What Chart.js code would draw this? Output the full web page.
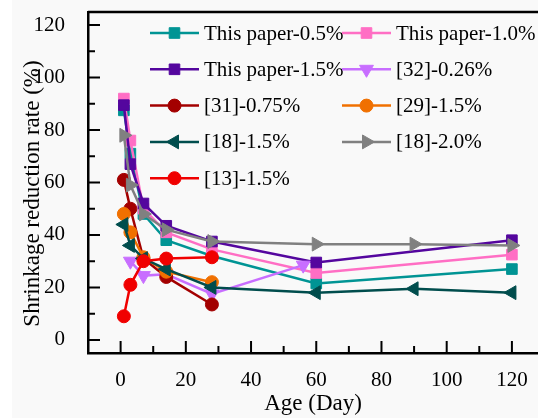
<!DOCTYPE html>
<html>
<head>
<meta charset="utf-8">
<script src="https://cdn.jsdelivr.net/npm/chart.js@4.4.1/dist/chart.umd.min.js"></script>
<style>
  html, body { margin: 0; padding: 0; background: #fff; overflow: hidden; }
  #wrap { position: absolute; left: 12px; top: 0; width: 526px; height: 418px; background: #f9f9f9; }
</style>
</head>
<body>
<div id="wrap"><canvas id="canvas" width="526" height="418"></canvas></div>
<script>
// tick labels
const yTicks = [0, 20, 40, 60, 80, 100, 120];
const xTicks = [0, 20, 40, 60, 80, 100, 120];

// shrinkage reduction rate (%) against age (day)
const daysPaper = [1, 3, 7, 14, 28, 60, 120];
const paper05 = [87.5, 71, 48, 38, 32, 21.5, 27];
const paper10 = [92, 76, 50, 41, 34.5, 25.5, 32.5];
const paper15 = [89.5, 67, 52, 43.5, 37.5, 29.5, 38];
const days32 = [3, 7, 14, 28, 56];
const ref32 = [30, 24.5, 25, 17.5, 28.5];
const days31 = [1, 3, 7, 14, 28];
const ref31 = [61, 50, 31, 24, 13.5];
const days29 = [1, 3, 7, 14, 28];
const ref29 = [48, 41, 31.5, 26, 22];
const days18 = [1, 3, 7, 14, 28, 60, 90, 120];
const ref18a = [44, 36, 31, 27, 20, 18, 19.5, 18];
const ref18b = [78, 59, 48, 42, 37.5, 36.5, 36.5, 36];
const days13 = [1, 3, 7, 14, 28];
const ref13 = [9, 21, 30, 31, 31.5];

const serif = 'Liberation Serif';
Chart.defaults.font.family = serif;
Chart.defaults.color = '#000';

function series(label, days, vals, color, pointStyle, rotation, radius, i) {
  return {
    label: label,
    data: days.map((d, k) => ({ x: d, y: vals[k] })),
    borderColor: color,
    backgroundColor: color,
    borderWidth: 2.5,
    pointStyle: pointStyle,
    rotation: rotation,
    pointRadius: radius,
    pointBorderWidth: 1,
    tension: 0,
    order: -i
  };
}

const datasets = [
  series('This paper-0.5%', daysPaper, paper05, '#009494', 'rect', 0, 7.5, 0),
  series('This paper-1.0%', daysPaper, paper10, '#ff6ec4', 'rect', 0, 7.5, 1),
  series('This paper-1.5%', daysPaper, paper15, '#54069e', 'rect', 0, 7.5, 2),
  series('[32]-0.26%', days32, ref32, '#c86eff', 'triangle', 180, 8, 3),
  series('[31]-0.75%', days31, ref31, '#a30000', 'circle', 0, 6.5, 4),
  series('[29]-1.5%', days29, ref29, '#f07000', 'circle', 0, 6.5, 5),
  series('[18]-1.5%', days18, ref18a, '#004d4d', 'triangle', 270, 8, 6),
  series('[18]-2.0%', days18, ref18b, '#808080', 'triangle', 90, 8, 7),
  series('[13]-1.5%', days13, ref13, '#f00000', 'circle', 0, 6.5, 8)
];

// inward major/minor ticks, top border, y title and the two-column legend
const decor = {
  id: 'decor',
  afterDraw(chart) {
    const ctx = chart.ctx;
    const a = chart.chartArea;
    const xs = chart.scales.x, ys = chart.scales.y;
    ctx.save();
    ctx.strokeStyle = '#000';
    ctx.lineWidth = 2;
    ctx.beginPath();
    for (let v = 0; v <= 120; v += 10) {
      const len = v % 20 === 0 ? 12 : 7;
      const py = ys.getPixelForValue(v);
      ctx.moveTo(a.left, py); ctx.lineTo(a.left + len, py);
      const px = xs.getPixelForValue(v);
      ctx.moveTo(px, a.bottom); ctx.lineTo(px, a.bottom - len);
    }
    ctx.stroke();
    ctx.lineWidth = 2.5;
    ctx.beginPath();
    ctx.moveTo(a.left, a.top); ctx.lineTo(a.right, a.top);
    ctx.stroke();

    ctx.fillStyle = '#000';
    ctx.font = '23px ' + serif;
    ctx.textAlign = 'center';
    ctx.textBaseline = 'middle';
    ctx.translate(21, (a.top + a.bottom) / 2 + 11);
    ctx.rotate(-Math.PI / 2);
    ctx.fillText('Shrinkage reduction rate (%)', 0, 0);
    ctx.restore();

    ctx.save();
    ctx.font = '21px ' + serif;
    ctx.textBaseline = 'middle';
    ctx.textAlign = 'left';
    chart.data.datasets.forEach((ds, i) => {
      const col = i % 2, row = Math.floor(i / 2);
      const x0 = a.left + (col === 0 ? 62 : 254);
      const y = a.top + 21 + row * 36.3;
      ctx.strokeStyle = ds.borderColor;
      ctx.fillStyle = ds.backgroundColor;
      ctx.lineWidth = 2.5;
      ctx.beginPath();
      ctx.moveTo(x0, y); ctx.lineTo(x0 + 49, y);
      ctx.stroke();
      ctx.lineWidth = 1;
      Chart.helpers.drawPoint(ctx, {
        pointStyle: ds.pointStyle, rotation: ds.rotation,
        radius: ds.pointRadius, borderWidth: 1
      }, x0 + 24.5, y);
      ctx.fillStyle = '#000';
      ctx.fillText(ds.label, x0 + 54, y + 1);
    });
    ctx.restore();
  }
};

const tickFont = { family: serif, size: 21 };

new Chart(document.getElementById('canvas'), {
  type: 'line',
  data: { datasets: datasets },
  options: {
    responsive: false,
    animation: false,
    layout: { autoPadding: false, padding: { top: 12, left: 0, right: 0, bottom: 0 } },
    plugins: { legend: { display: false }, tooltip: { enabled: false } },
    scales: {
      x: {
        type: 'linear',
        min: -10,
        max: 128,
        grid: { display: false },
        border: { display: true, color: '#000', width: 2.5 },
        afterBuildTicks: s => { s.ticks = xTicks.map(v => ({ value: v })); },
        afterFit: s => { s.height = 65; s.paddingLeft = 0; s.paddingRight = 0; },
        ticks: { padding: 7, maxRotation: 0, font: tickFont },
        title: { display: true, text: 'Age (Day)', font: { family: serif, size: 23 }, padding: { top: 0, bottom: 0 } }
      },
      y: {
        min: -5,
        max: 125,
        grid: { display: false },
        border: { display: true, color: '#000', width: 2.5 },
        afterBuildTicks: s => { s.ticks = yTicks.map(v => ({ value: v })); },
        afterFit: s => { s.width = 76; s.paddingTop = 0; s.paddingBottom = 0; },
        ticks: { padding: 15, font: tickFont }
      }
    }
  },
  plugins: [decor]
});
</script>
</body>
</html>
